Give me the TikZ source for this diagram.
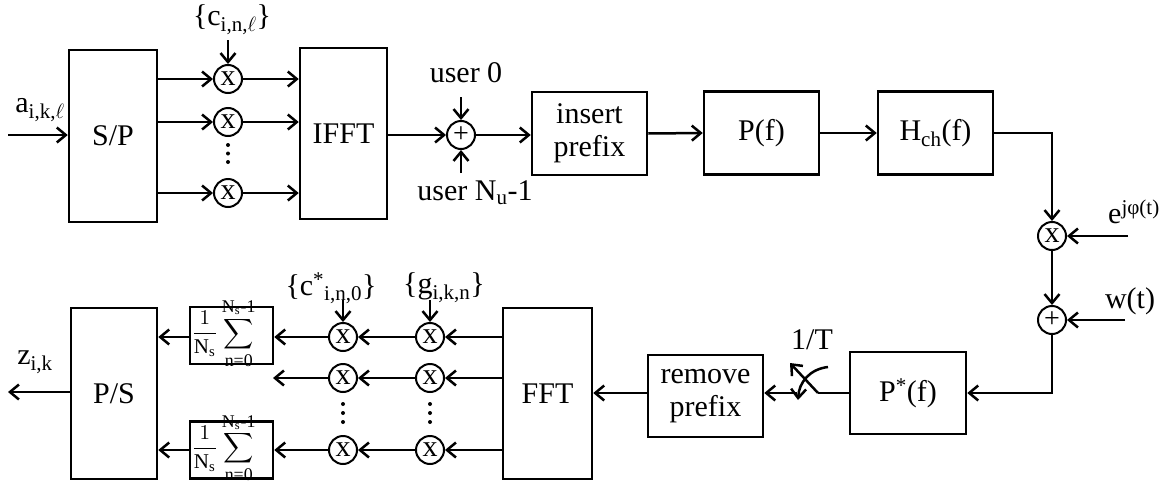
\documentclass[tikz,border=0pt]{standalone}
\usepackage{amsmath}
\usepackage{graphicx}
\usepackage{fontspec}
\setmainfont{Liberation Serif}
\usetikzlibrary{arrows.meta}
\newcommand{\limtext}[1]{\mbox{\fontsize{8.5}{8.5}\selectfont #1}}
\newcommand{\avgsum}{\scalebox{2.1}{\fontsize{10}{10}\selectfont
  $\displaystyle\frac{1}{\mathrm{N_s}}\sum_{\limtext{n=0}}^{\limtext{N\textsubscript{s}-1}}$}}
\begin{document}
\begin{tikzpicture}[x=1pt,y=-1pt,
  font=\fontsize{30}{33}\selectfont,
  line width=2.5pt,
  blk/.style={draw,rectangle,inner sep=0pt,align=center},
  mulnode/.style={draw,circle,line width=2pt,minimum size=28pt,inner sep=0pt},
  addnode/.style={draw,circle,line width=2pt,minimum size=28pt,inner sep=0pt,
    font=\fontsize{28}{28}\selectfont},
  sumbox/.style={draw,rectangle,inner sep=0pt,minimum width=83pt,minimum height=57pt},
  sumtext/.style={inner sep=0pt},
  lbl/.style={inner sep=0pt},
  arr/.style={-{Straight Barb[length=9pt,width=15pt]}}]
\useasboundingbox (0,0) rectangle (1163,485);

% ---------------- transmitter ----------------
\node[blk,minimum width=88pt,minimum height=172pt] (SP) at (113,136) {S/P};
\node[blk,minimum width=87pt,minimum height=171pt] (IF) at (343.5,133.5) {IFFT};
\node[mulnode] (m1) at (228,79) {x};
\node[mulnode] (m2) at (228,122) {x};
\node[mulnode] (m3) at (228,193) {x};
\foreach \yy in {145,153.5,162} \fill (228,\yy) circle (2pt);

\coordinate (ain) at (8,135);
\node[lbl] (alab) at (40,110) {a\textsubscript{i,k,$\ell$}};
\draw[arr] (ain) -- (ain -| SP.west);

\node[lbl] (clab) at (232,20) {\{c\textsubscript{i,n,$\ell$}\}};
\coordinate (cin) at (228,40);
\draw[arr] (cin) -- (m1.north);

\foreach \m in {m1,m2,m3}{
  \draw[arr] (\m -| SP.east) -- (\m.west);
  \draw[arr] (\m.east) -- (\m -| IF.west);
}

\node[addnode] (p1) at (461,135) {+};
\node[lbl] (u0) at (466,73) {user 0};
\node[lbl] (uN) at (475,193) {user N\textsubscript{u}-1};
\coordinate (u0in) at (461,97);
\coordinate (uNin) at (461,173);
\draw[arr] (u0in) -- (p1.north);
\draw[arr] (uNin) -- (p1.south);
\draw[arr] (IF.east |- p1) -- (p1.west);

\node[blk,minimum width=115pt,minimum height=83pt] (IP) at (589.5,133.5) {insert\\prefix};
\node[blk,minimum width=115pt,minimum height=83pt] (PF) at (761.5,133) {P(f)};
\node[blk,minimum width=115pt,minimum height=83pt] (H) at (935.5,133) {H\textsubscript{ch}(f)};
\draw[arr] (p1.east) -- (p1 -| IP.west);
\draw[arr] (IP.east) -- (PF.west);
\draw[arr] (PF.east) -- (H.west);

% ---------------- channel ----------------
\node[mulnode] (mc) at (1052,236) {x};
\node[addnode] (pc) at (1052,320) {+};
\node[lbl] (elab) at (1134,212) {e\textsuperscript{jφ(t)}};
\node[lbl] (wlab) at (1130,301) {w(t)};
\coordinate (ein) at (1128,236);
\coordinate (win) at (1125,320);
\draw[arr] (H.east) -| (mc.north);
\draw[arr] (ein) -- (mc.east);
\draw[arr] (mc.south) -- (pc.north);
\draw[arr] (win) -- (pc.east);

% ---------------- receiver ----------------
\node[blk,minimum width=116pt,minimum height=82pt] (PS2) at (908,393) {P\textsuperscript{*}(f)};
\draw[arr] (pc.south) |- (PS2.east);

% sampler switch
\coordinate (swA) at (818,393);
\coordinate (swB) at (790,363);
\coordinate (swC) at (828,367);
\coordinate (swD) at (798,400);
\coordinate (swE) at (797,393);
\node[lbl] (Tlab) at (812,340) {1/T};
\draw (PS2.west |- swA) -- (swA);
\draw[arr] (swA) -- (swB);
\draw[arr] (swC) .. controls (810,369) and (799,382) .. (swD);

\node[blk,minimum width=115pt,minimum height=82pt] (RP) at (705.5,396) {remove\\prefix};
\node[blk,minimum width=89pt,minimum height=171pt] (FFT) at (547.5,393.5) {FFT};
\draw[arr] (swE) -- (swE -| RP.east);
\draw[arr] (RP.west |- swE) -- (swE -| FFT.east);

\node[mulnode] (g1) at (430,337) {x};
\node[mulnode] (g2) at (430,378) {x};
\node[mulnode] (g3) at (430,450) {x};
\node[mulnode] (c1) at (343,337) {x};
\node[mulnode] (c2) at (343,378) {x};
\node[mulnode] (c3) at (343,450) {x};
\foreach \xx in {343,430}
  \foreach \yy in {404,413,422} \fill (\xx,\yy) circle (2pt);

\node[lbl] (cslab) at (331,288) {\{c\textsuperscript{*}\textsubscript{i,n,0}\}};
\node[lbl] (glab) at (444,288) {\{g\textsubscript{i,k,n}\}};
\coordinate (csin) at (343,300);
\coordinate (gin) at (430,300);
\draw[arr] (csin) -- (c1.north);
\draw[arr] (gin) -- (g1.north);

\node[sumbox] (S1) at (231.5,335.5) {};
\node[sumbox] (S3) at (231.5,450) {};
\node[sumtext] (S1t) at ([xshift=-8pt,yshift=2pt]S1.center) {\avgsum};
\node[sumtext] (S3t) at ([xshift=-8pt,yshift=2pt]S3.center) {\avgsum};
\coordinate (e2) at (273,378);

\node[blk,minimum width=86pt,minimum height=171pt] (PS) at (114,393.5) {P/S};

\draw[arr] (g1 -| FFT.west) -- (g1.east);
\draw[arr] (g2 -| FFT.west) -- (g2.east);
\draw[arr] (g3 -| FFT.west) -- (g3.east);
\draw[arr] (g1.west) -- (c1.east);
\draw[arr] (g2.west) -- (c2.east);
\draw[arr] (g3.west) -- (c3.east);
\draw[arr] (c1.west) -- (c1 -| S1.east);
\draw[arr] (c2.west) -- (e2);
\draw[arr] (c3.west) -- (c3 -| S3.east);
\draw[arr] (S1.west |- c1) -- (c1 -| PS.east);
\draw[arr] (S3.west |- c3) -- (c3 -| PS.east);

\coordinate (zout) at (8,392);
\node[lbl] (zlab) at (35,362) {z\textsubscript{i,k}};
\draw[arr] (PS.west |- zout) -- (zout);
\end{tikzpicture}
\end{document}
